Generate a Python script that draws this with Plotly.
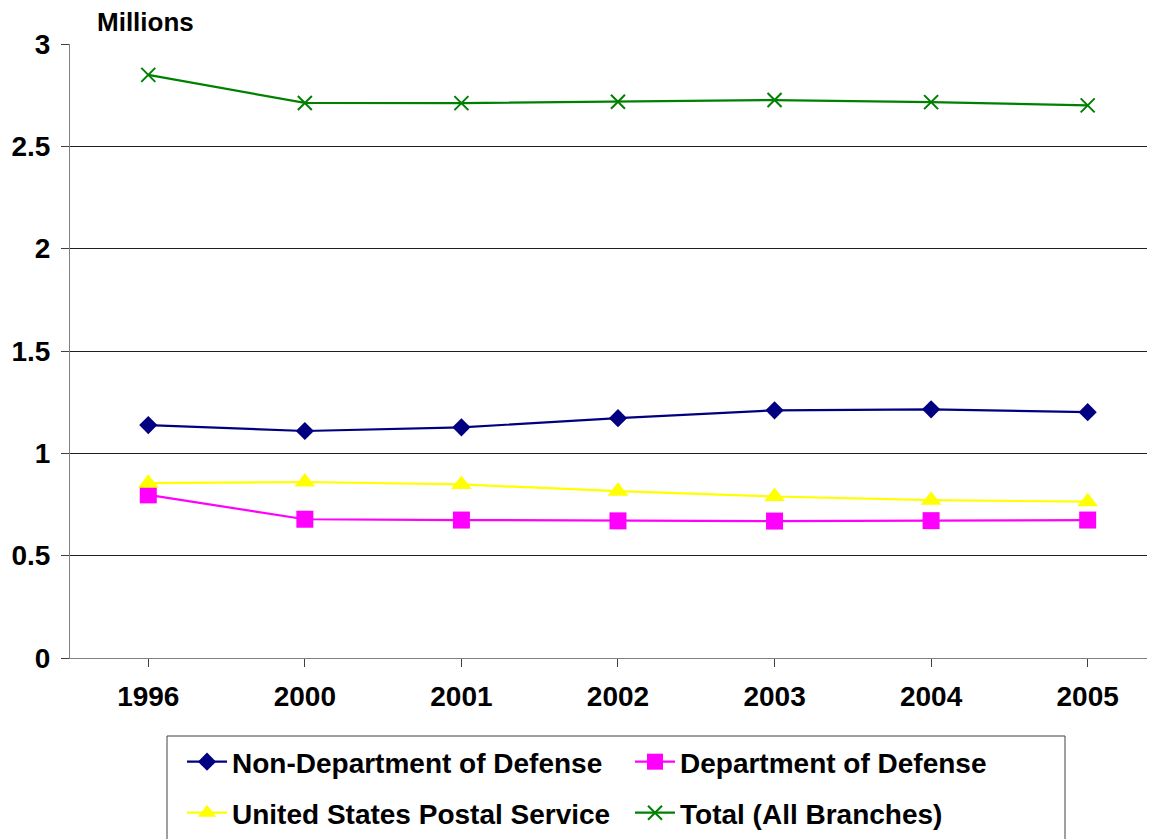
import plotly.graph_objects as go

years = ["1996", "2000", "2001", "2002", "2003", "2004", "2005"]
non_dod = [1.138, 1.109, 1.127, 1.172, 1.210, 1.215, 1.201]
dod = [0.797, 0.678, 0.674, 0.670, 0.669, 0.671, 0.674]
usps = [0.854, 0.860, 0.848, 0.815, 0.789, 0.771, 0.764]
total = [2.849, 2.712, 2.711, 2.718, 2.726, 2.716, 2.700]

series = [
    ("Non-Department of Defense", non_dod, "#000080", "diamond", 14, "legend"),
    ("Department of Defense", dod, "#FF00FF", "square", 17, "legend"),
    ("United States Postal Service", usps, "#FFFF00", "triangle-up", 18, "legend2"),
    ("Total (All Branches)", total, "#008000", "x-thin", 14, "legend2"),
]

FAM = "Liberation Sans, Arial, sans-serif"
font = dict(family=FAM, size=28, color="black", weight="bold")
legfont = dict(family=FAM, size=28, color="black", weight="bold")

OFF = 8  # page body margin in the screenshot
W, H = 1155 - OFF, 839 - OFF
L, T = 70 - OFF, 44 - OFF
B = H - (658 - OFF)
PW = W - L
PH = H - T - B


def px(x):
    return (x - OFF - L) / PW


def py(y):
    return (H - B - (y - OFF)) / PH


fig = go.Figure()
for name, vals, color, sym, size, leg in series:
    marker = dict(symbol=sym, size=size, color=color)
    if sym == "x-thin":
        marker["line"] = dict(color=color, width=2)
    fig.add_trace(go.Scatter(
        x=list(range(len(years))), y=vals, name=name, mode="lines+markers",
        line=dict(color=color, width=2.2), marker=marker, legend=leg,
    ))

legcommon = dict(
    orientation="h", xanchor="left", yanchor="middle",
    borderwidth=0, bgcolor="rgba(0,0,0,0)",
    font=legfont, entrywidth=393, itemwidth=40,
)

fig.update_layout(
    width=W, height=H,
    margin=dict(l=L, r=0, t=T, b=B, autoexpand=False),
    paper_bgcolor="white", plot_bgcolor="white",
    font=font,
    showlegend=True,
    legend=dict(x=px(182), y=py(762), **legcommon),
    legend2=dict(x=px(182), y=py(813), **legcommon),
    xaxis=dict(
        range=[-0.5, 6.43], tickmode="array", tickvals=list(range(len(years))), ticktext=years,
        showgrid=False, zeroline=False, showline=True, linecolor="#808080", linewidth=1,
        ticks="outside", ticklen=8, tickcolor="#404040", tickson="boundaries",
        ticklabelstandoff=5, tickfont=font,
    ),
    yaxis=dict(
        range=[0, 3], dtick=0.5,
        showgrid=True, gridcolor="#202020", gridwidth=1, zeroline=False,
        showline=True, linecolor="#808080", linewidth=1,
        ticks="outside", ticklen=8, tickcolor="#404040",
        ticklabelstandoff=5, tickfont=font,
    ),
    shapes=[dict(
        type="rect", xref="paper", yref="paper",
        x0=px(167), x1=px(1065), y0=py(736), y1=py(845),
        line=dict(color="#404040", width=1), fillcolor="rgba(0,0,0,0)", layer="above",
    )],
    annotations=[dict(
        text="Millions", xref="paper", yref="paper", x=px(95), y=py(22),
        xanchor="left", yanchor="middle", showarrow=False,
        font=dict(family=FAM, size=26, color="black", weight="bold"),
    )],
)

fig.write_html("out.html")
